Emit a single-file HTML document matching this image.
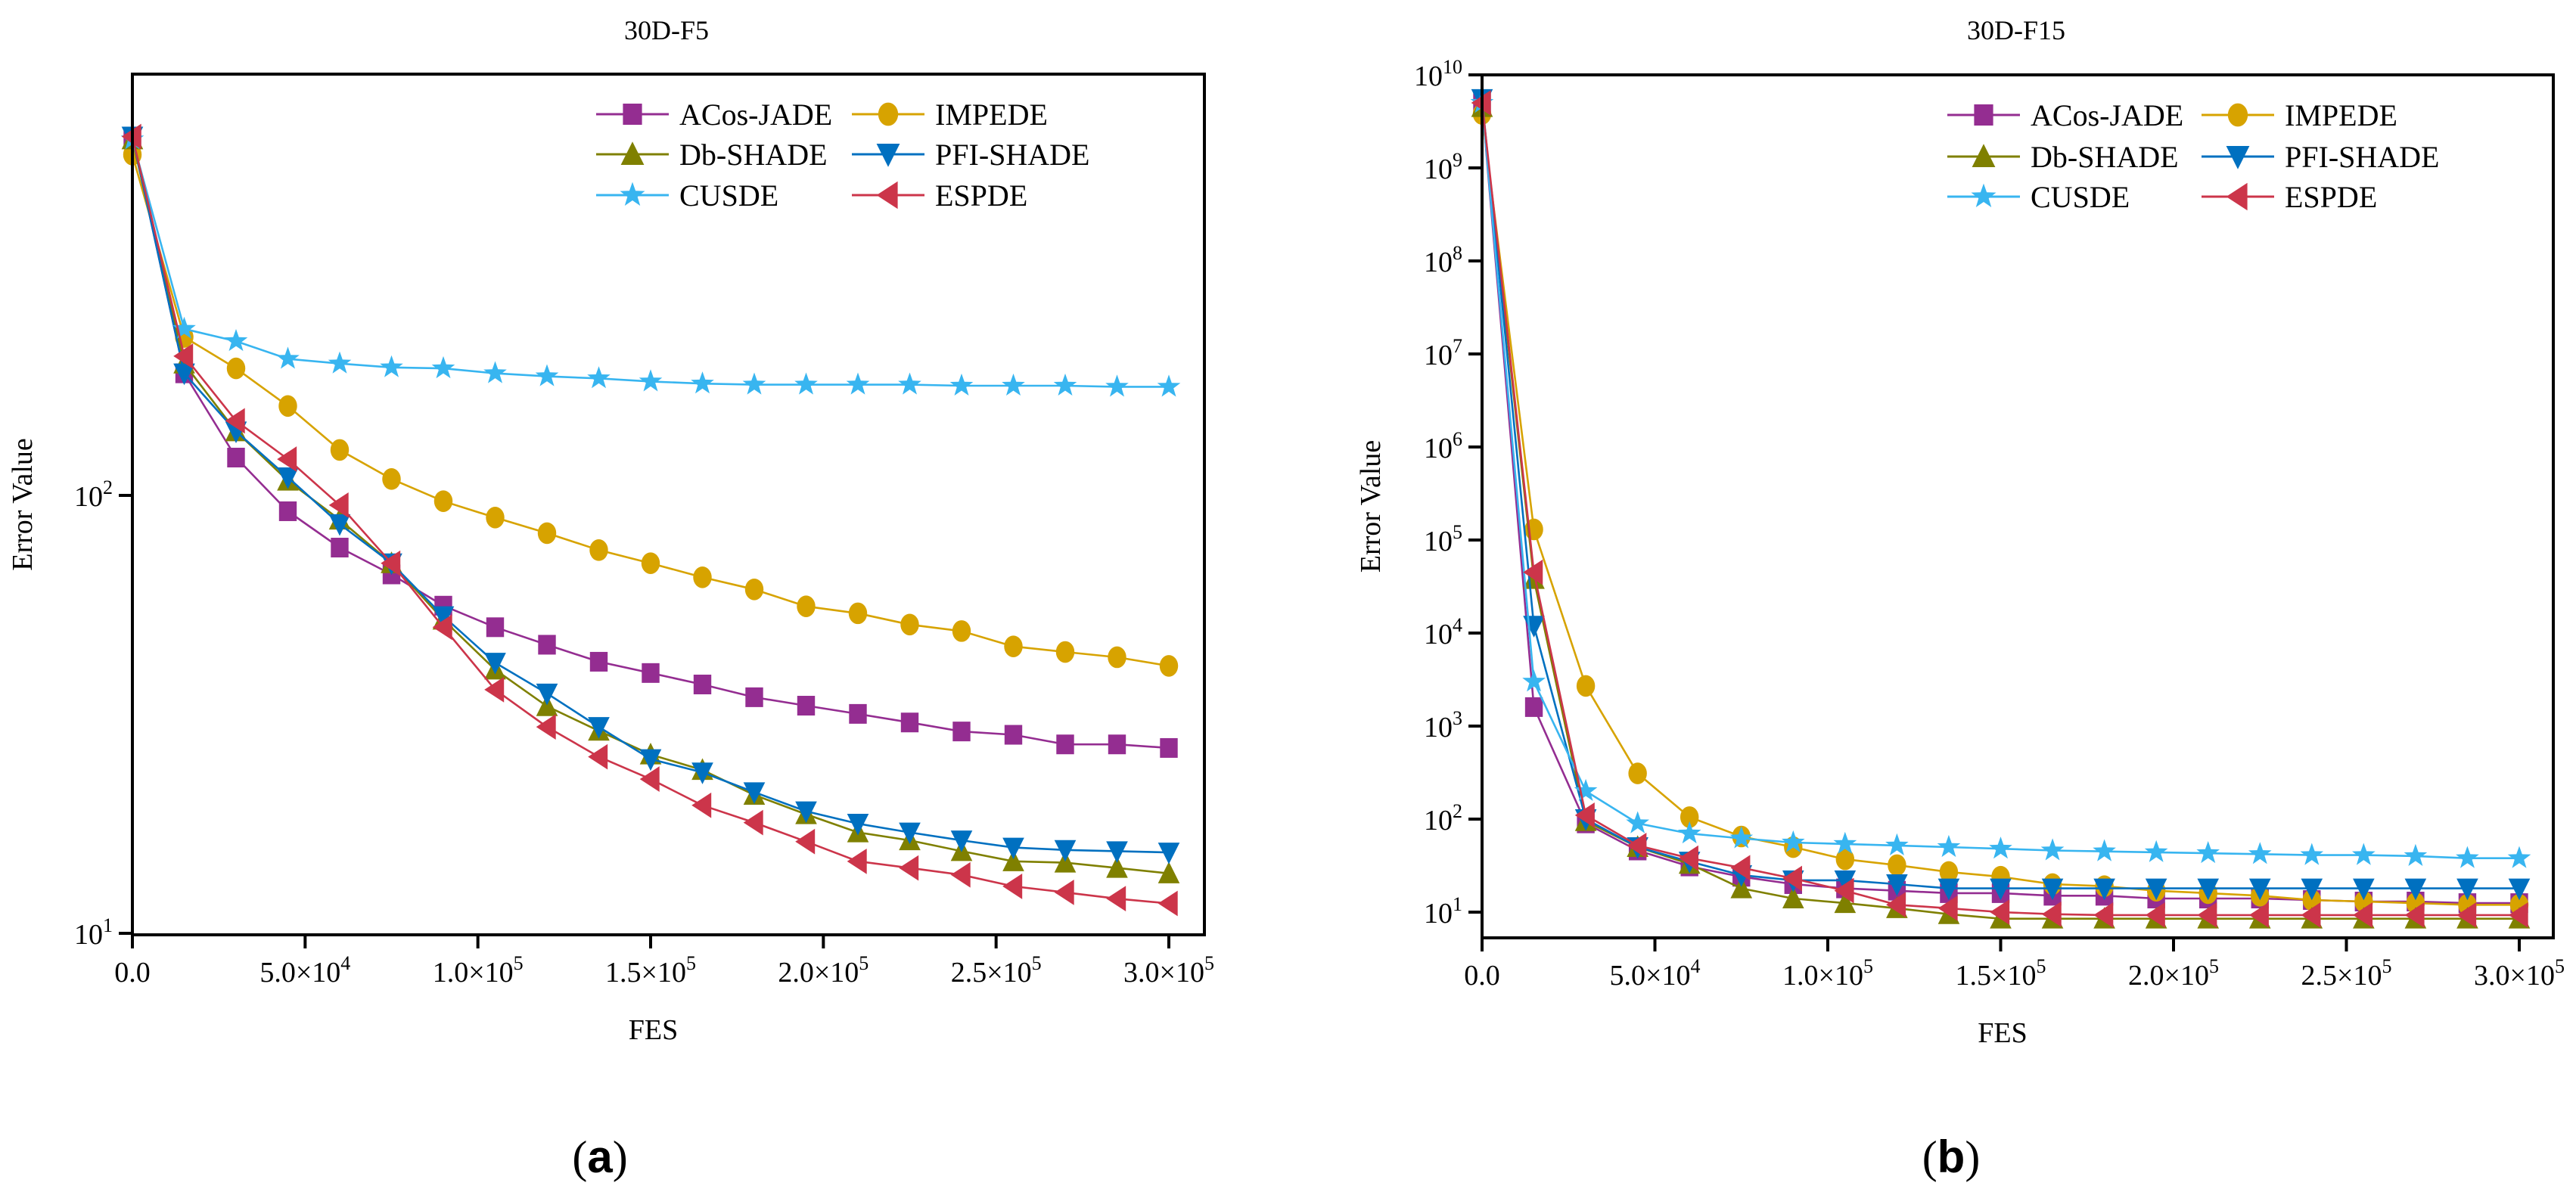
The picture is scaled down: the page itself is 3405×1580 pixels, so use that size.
<!DOCTYPE html>
<html><head><meta charset="utf-8"><style>
html,body{margin:0;padding:0;background:#fff;}
svg{display:block;font-family:"Liberation Serif",serif;}
</style></head><body>
<svg id="fig" width="3405" height="1580" viewBox="0 0 3405 1580" xmlns="http://www.w3.org/2000/svg"></svg>
<script>
const fesSteps = [0,15000,30000,45000,60000,75000,90000,105000,120000,135000,150000,165000,180000,195000,210000,225000,240000,255000,270000,285000,300000];
const seriesNames = ["ACos-JADE","IMPEDE","Db-SHADE","PFI-SHADE","CUSDE","ESPDE"];
const xTickValues = [0,50000,100000,150000,200000,250000,300000];
const xTickLabels = [["0.0",""],["5.0×10","4"],["1.0×10","5"],["1.5×10","5"],["2.0×10","5"],["2.5×10","5"],["3.0×10","5"]];
// chart (a) 30D-F5
const f5AcosJade = [660,190,122,92,76,66,56,50,45.6,41.7,39.3,37,34.6,33.1,31.7,30.3,28.9,28.4,27,27,26.5];
const f5Impede = [600,230,195,160,127,109,97,89,82,75,70,65,61,55.8,53.8,50.7,49,45.2,43.9,42.7,40.8];
const f5DbShade = [650,200,140,108,88,70,52,40,33,29,25.6,23.6,20.7,18.7,17,16.3,15.4,14.6,14.5,14.1,13.7];
const f5PfiShade = [660,190,140,110,86,70,53,41.5,35.3,29.6,25,23.3,21,19,17.8,17,16.3,15.7,15.5,15.4,15.3];
const f5Cusde = [650,240,225,205,200,196,195,190,187,185,182,180,179,179,179,179,178,178,178,177,177];
const f5Espde = [660,208,148,121,95,70,50,36,29.6,25.3,22.5,19.6,17.9,16.2,14.6,14.1,13.6,12.8,12.4,12,11.7];
const f5YTickExps = [1,2];
// chart (b) 30D-F15
const f15AcosJade = [5e9,1600,90,46,31,24,20,18,17,16,16,15,15,14,14,14,13.5,13,13,12.5,12.5];
const f15Impede = [3.8e9,1.3e5,2700,310,105,65,50,37,32,27,24,20,19,17,16,15,13.5,13,12.5,12,12];
const f15DbShade = [4.5e9,3.8e4,95,50,33,18,14,12.5,11,9.5,8.5,8.5,8.5,8.5,8.5,8.5,8.5,8.5,8.5,8.5,8.5];
const f15PfiShade = [5.5e9,1.2e4,100,50,35,25,22,22,20,18,18,18,18,18,18,18,18,18,18,18,18];
const f15Cusde = [5e9,3000,200,90,70,62,56,54,52,50,48,46,45,44,43,42,41,41,40,38,38];
const f15Espde = [5e9,4.5e4,110,52,38,30,23,17,12,11,10,9.5,9.3,9.3,9.3,9.3,9.3,9.3,9.3,9.3,9.3];
const f15YTickExps = [1,2,3,4,5,6,7,8,9,10];

const colors = ["#942d91","#d7a300","#7f8000","#0070c0","#38b5f0","#cc354a"];
const markers = ["square","circle","up","down","star","left"];
const NS = "http://www.w3.org/2000/svg";
const svg = document.getElementById("fig");
function mk(tag, attrs, parent){const e=document.createElementNS(NS,tag);for(const k in attrs)e.setAttribute(k,attrs[k]);(parent||svg).appendChild(e);return e;}

function drawMarker(g, type, cx, cy, color, s){
  let e;
  if(type==="square") e=mk("rect",{x:cx-s*0.45,y:cy-s*0.5,width:s*0.9,height:s,fill:color},g);
  else if(type==="circle") e=mk("ellipse",{cx:cx,cy:cy,rx:s*0.47,ry:s*0.55,fill:color},g);
  else if(type==="up") e=mk("polygon",{points:`${cx},${cy-s*0.6} ${cx+s*0.55},${cy+s*0.5} ${cx-s*0.55},${cy+s*0.5}`,fill:color},g);
  else if(type==="down") e=mk("polygon",{points:`${cx},${cy+s*0.6} ${cx+s*0.55},${cy-s*0.5} ${cx-s*0.55},${cy-s*0.5}`,fill:color},g);
  else if(type==="left") e=mk("polygon",{points:`${cx-s*0.55},${cy} ${cx+s*0.45},${cy-s*0.65} ${cx+s*0.45},${cy+s*0.65}`,fill:color},g);
  else { let p=[];for(let i=0;i<10;i++){const r=i%2?s*0.25:s*0.62;const a=-Math.PI/2+i*Math.PI/5;p.push((cx+r*Math.cos(a)).toFixed(1)+","+(cy+r*Math.sin(a)).toFixed(1));}
    e=mk("polygon",{points:p.join(" "),fill:color},g);}
  return e;
}

function drawChart(cfg, data, yExps){
  const g = mk("g",{});
  
  
  const xS = v => cfg.x0 + (v/300000)*(cfg.x1-cfg.x0);
  const yS = v => cfg.yA - (Math.log10(v)-cfg.expA)*cfg.dec;
  const t = mk("text",{x:cfg.titleX,y:cfg.titleY,"font-size":36,"text-anchor":"middle",fill:"#000"},g);
  t.textContent = cfg.title;
  
  
  data.forEach((vals,si)=>{
    const sg = mk("g",{},g);
    
    
    const pts = vals.map((v,i)=>xS(fesSteps[i]).toFixed(1)+","+yS(v).toFixed(1)).join(" ");
    mk("polyline",{points:pts,fill:"none",stroke:colors[si],"stroke-width":2.6},sg);
    vals.forEach((v,i)=>{
      const m = drawMarker(sg,markers[si],xS(fesSteps[i]),yS(v),colors[si],26);
      
      
    });
  });
  const fr = mk("rect",{x:cfg.x0,y:cfg.top,width:cfg.right-cfg.x0,height:cfg.bottom-cfg.top,fill:"none",stroke:"#000","stroke-width":4},g);
  
  
  xTickValues.forEach((v,i)=>{
    const x = xS(v);
    mk("line",{x1:x,y1:cfg.bottom,x2:x,y2:cfg.bottom+18,stroke:"#000","stroke-width":4},g);
    const tx = mk("text",{x:x,y:cfg.bottom+62,"font-size":38,"text-anchor":"middle",fill:"#000"},g);
    
    
    tx.appendChild(document.createTextNode(xTickLabels[i][0]));
    if(xTickLabels[i][1]){const sp=document.createElementNS(NS,"tspan");sp.setAttribute("dy","-16");sp.setAttribute("font-size","26");sp.textContent=xTickLabels[i][1];tx.appendChild(sp);}
  });
  yExps.forEach(e=>{
    const y = yS(Math.pow(10,e));
    mk("line",{x1:cfg.x0-18,y1:y,x2:cfg.x0,y2:y,stroke:"#000","stroke-width":4},g);
    const ty = mk("text",{x:cfg.x0-26,y:y+14,"font-size":38,"text-anchor":"end",fill:"#000"},g);
    
    
    const a=document.createElementNS(NS,"tspan");a.textContent="10";ty.appendChild(a);
    const b=document.createElementNS(NS,"tspan");b.setAttribute("dy","-16");b.setAttribute("font-size","26");b.textContent=String(e);ty.appendChild(b);
  });
  const xl = mk("text",{x:(cfg.x0+cfg.right)/2-20,y:cfg.bottom+138,"font-size":38,"text-anchor":"middle",fill:"#000"},g);
  xl.textContent="FES";
  
  
  const yl = mk("text",{x:0,y:0,"font-size":38,"text-anchor":"middle",fill:"#000",transform:`translate(${cfg.ylabX},${(cfg.top+cfg.bottom)/2}) rotate(-90)`},g);
  yl.textContent="Error Value";
  
  
  const lg = mk("g",{},g);
  
  
  seriesNames.forEach((n,i)=>{
    const col=i%2,row=Math.floor(i/2);
    const lx = cfg.legX[col], ly = cfg.legY[row];
    const eg = mk("g",{},lg);
    
    
    mk("line",{x1:lx,y1:ly,x2:lx+96,y2:ly,stroke:colors[i],"stroke-width":3},eg);
    drawMarker(eg,markers[i],lx+48,ly,colors[i],28);
    const lt = mk("text",{x:lx+110,y:ly+14,"font-size":40,fill:"#000"},eg);
    lt.textContent=n;
  });
  const pl = mk("text",{x:cfg.panelX,y:1550,"font-size":60,"text-anchor":"middle",fill:"#000"},g);
  
  
  pl.appendChild(document.createTextNode("("));
  const bb=document.createElementNS(NS,"tspan");bb.setAttribute("font-weight","bold");bb.setAttribute("font-family","Liberation Sans, sans-serif");bb.textContent=cfg.panel;pl.appendChild(bb);
  pl.appendChild(document.createTextNode(")"));
}

drawChart({name:"chart-30d-f5",title:"30D-F5",titleX:881,titleY:52,x0:175,x1:1545,right:1592,top:98,bottom:1236,
  yA:1234,expA:1,dec:579,ylabX:42,legX:[788,1126],legY:[151,204,258],panelX:793,panel:"a"},
  [f5AcosJade,f5Impede,f5DbShade,f5PfiShade,f5Cusde,f5Espde],f5YTickExps);
drawChart({name:"chart-30d-f15",title:"30D-F15",titleX:2665,titleY:52,x0:1959,x1:3330,right:3375,top:99,bottom:1240,
  yA:1206,expA:1,dec:123,ylabX:1824,legX:[2574,2910],legY:[152,207,260],panelX:2579,panel:"b"},
  [f15AcosJade,f15Impede,f15DbShade,f15PfiShade,f15Cusde,f15Espde],f15YTickExps);
</script>
</body></html>
